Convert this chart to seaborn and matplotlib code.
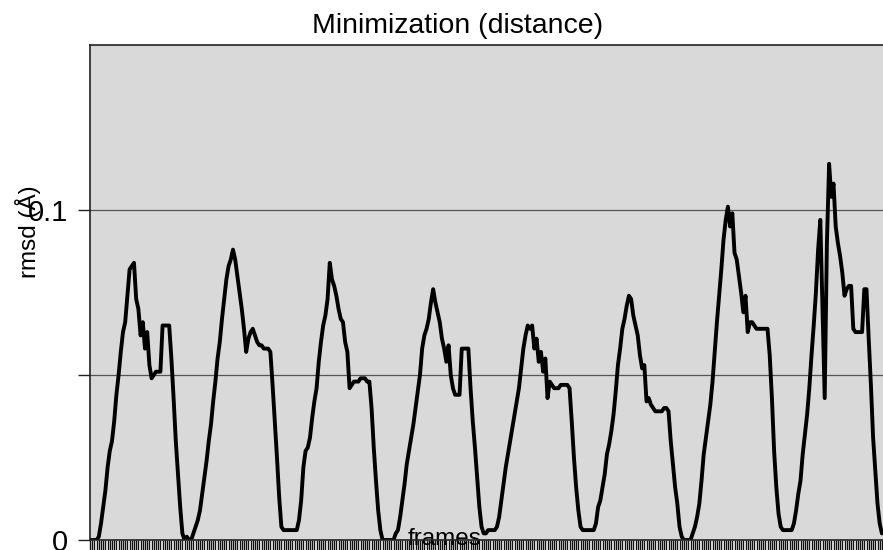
import numpy as np
import pandas as pd
import seaborn as sns
import matplotlib.pyplot as plt

# rmsd (A) per minimization frame, one list per cycle
cycle1 = [0.000, 0.000, 0.000, 0.000, 0.001, 0.005, 0.010, 0.015, 0.022, 0.027,
          0.030, 0.036, 0.044, 0.050, 0.057, 0.063, 0.066, 0.074, 0.082, 0.083,
          0.084, 0.073, 0.070, 0.062, 0.066, 0.058, 0.063, 0.053, 0.049, 0.050,
          0.051, 0.051, 0.051, 0.065, 0.065, 0.065, 0.065, 0.055, 0.043, 0.030,
          0.020, 0.010, 0.002, 0.000, 0.001, 0.000, 0.000, 0.002]
cycle2 = [0.004, 0.006, 0.009, 0.014, 0.019, 0.024, 0.030, 0.035, 0.042, 0.048,
          0.055, 0.060, 0.067, 0.073, 0.079, 0.083, 0.085, 0.088, 0.085, 0.080,
          0.075, 0.070, 0.064, 0.057, 0.061, 0.063, 0.064, 0.062, 0.060, 0.059,
          0.059, 0.058, 0.058, 0.058, 0.057, 0.047, 0.036, 0.025, 0.013, 0.004,
          0.003, 0.003, 0.003, 0.003, 0.003, 0.003, 0.003]
cycle3 = [0.006, 0.012, 0.022, 0.027, 0.028, 0.031, 0.037, 0.042, 0.046, 0.054,
          0.060, 0.065, 0.068, 0.073, 0.084, 0.079, 0.077, 0.074, 0.070, 0.067,
          0.066, 0.060, 0.057, 0.046, 0.047, 0.048, 0.048, 0.048, 0.049, 0.049,
          0.049, 0.048, 0.048, 0.040, 0.028, 0.018, 0.009, 0.003, 0.000, 0.000,
          0.000, 0.000, 0.000, 0.000, 0.002]
cycle4 = [0.003, 0.007, 0.012, 0.017, 0.023, 0.027, 0.031, 0.035, 0.040, 0.045,
          0.050, 0.058, 0.062, 0.064, 0.067, 0.072, 0.076, 0.072, 0.069, 0.066,
          0.061, 0.058, 0.054, 0.059, 0.050, 0.046, 0.044, 0.044, 0.044, 0.058,
          0.058, 0.058, 0.058, 0.046, 0.036, 0.028, 0.019, 0.010, 0.004, 0.002,
          0.002, 0.003, 0.003, 0.003, 0.003, 0.004]
cycle5 = [0.007, 0.012, 0.017, 0.022, 0.026, 0.030, 0.034, 0.038, 0.042, 0.046,
          0.052, 0.058, 0.062, 0.065, 0.064, 0.065, 0.058, 0.061, 0.054, 0.057,
          0.051, 0.055, 0.043, 0.048, 0.047, 0.046, 0.046, 0.046, 0.047, 0.047,
          0.047, 0.047, 0.046, 0.036, 0.025, 0.016, 0.009, 0.004, 0.003, 0.003,
          0.003, 0.003, 0.003, 0.003, 0.005]
cycle6 = [0.010, 0.012, 0.016, 0.020, 0.026, 0.029, 0.033, 0.038, 0.045, 0.053,
          0.058, 0.064, 0.067, 0.071, 0.074, 0.073, 0.068, 0.065, 0.062, 0.056,
          0.052, 0.053, 0.042, 0.043, 0.041, 0.040, 0.039, 0.039, 0.039, 0.039,
          0.040, 0.040, 0.039, 0.030, 0.023, 0.016, 0.011, 0.004, 0.001, 0.000,
          0.000, 0.000, 0.000, 0.002]
cycle7 = [0.004, 0.007, 0.011, 0.018, 0.026, 0.031, 0.036, 0.041, 0.048, 0.057,
          0.066, 0.074, 0.082, 0.091, 0.097, 0.101, 0.095, 0.099, 0.087, 0.085,
          0.080, 0.075, 0.069, 0.074, 0.063, 0.066, 0.066, 0.065, 0.064, 0.064,
          0.064, 0.064, 0.064, 0.064, 0.056, 0.043, 0.027, 0.016, 0.008, 0.004,
          0.003, 0.003, 0.003, 0.003, 0.003]
cycle8 = [0.005, 0.009, 0.014, 0.018, 0.026, 0.032, 0.038, 0.046, 0.056, 0.065,
          0.075, 0.088, 0.097, 0.070, 0.043, 0.090, 0.114, 0.104, 0.108, 0.095,
          0.090, 0.086, 0.081, 0.074, 0.076, 0.077, 0.077, 0.064, 0.063, 0.063,
          0.063, 0.063, 0.076, 0.076, 0.061, 0.047, 0.031, 0.021, 0.011, 0.005,
          0.002]

rmsd = cycle1 + cycle2 + cycle3 + cycle4 + cycle5 + cycle6 + cycle7 + cycle8
df = pd.DataFrame({'frame': np.arange(len(rmsd)), 'rmsd': rmsd})

y_ticks = [0, 0.05, 0.1]
y_ticklabels = ['0', '', '0.1']

sns.set_style('white')
plt.rcParams['font.family'] = ['Liberation Sans', 'DejaVu Sans']
plt.rcParams['text.color'] = 'black'
plt.rcParams['axes.labelcolor'] = 'black'
plt.rcParams['xtick.color'] = 'black'
plt.rcParams['ytick.color'] = 'black'

fig = plt.figure(figsize=(8.83, 5.5), dpi=100)
ax = fig.add_axes([90 / 883, 10 / 550, 793 / 883, 495 / 550])
ax.set_facecolor('#d9d9d9')

sns.lineplot(data=df, x='frame', y='rmsd', ax=ax, color='black', linewidth=2.8)

ax.set_xlim(0, len(rmsd) - 0.5)
ax.set_ylim(0, 0.15)

# one little tick for every frame, no labels (like the excel category axis)
ax.set_xticks(df['frame'])
ax.set_xticklabels([])
ax.tick_params(axis='x', bottom=True, direction='out', length=8, width=1, color='#111111')

ax.set_yticks(y_ticks)
ax.set_yticklabels(y_ticklabels)
ax.tick_params(axis='y', left=True, direction='out', length=8.5, width=1, color='#222222',
               labelsize=21, pad=7)
ax.yaxis.grid(True, color='#555555', linewidth=0.9)
ax.xaxis.grid(False)

for side in ['left', 'top', 'bottom']:
    ax.spines[side].set_visible(True)
    ax.spines[side].set_color('#222222')
    ax.spines[side].set_linewidth(1.2)
ax.spines['right'].set_visible(False)

ax.set_xlabel('frames', fontsize=17.5)
ax.xaxis.label.set_va('baseline')
ax.xaxis.set_label_coords(0.4477, -0.0101)

ax.set_ylabel('rmsd (Å)', fontsize=17.5)
ax.yaxis.label.set_va('center')
ax.yaxis.set_label_coords(-0.0782, 0.622)

fig.text(457.5 / 883, 1 - 33 / 550, 'Minimization (distance)', fontsize=20.5,
         ha='center', va='baseline')

fig.savefig('out.png', dpi=100)
